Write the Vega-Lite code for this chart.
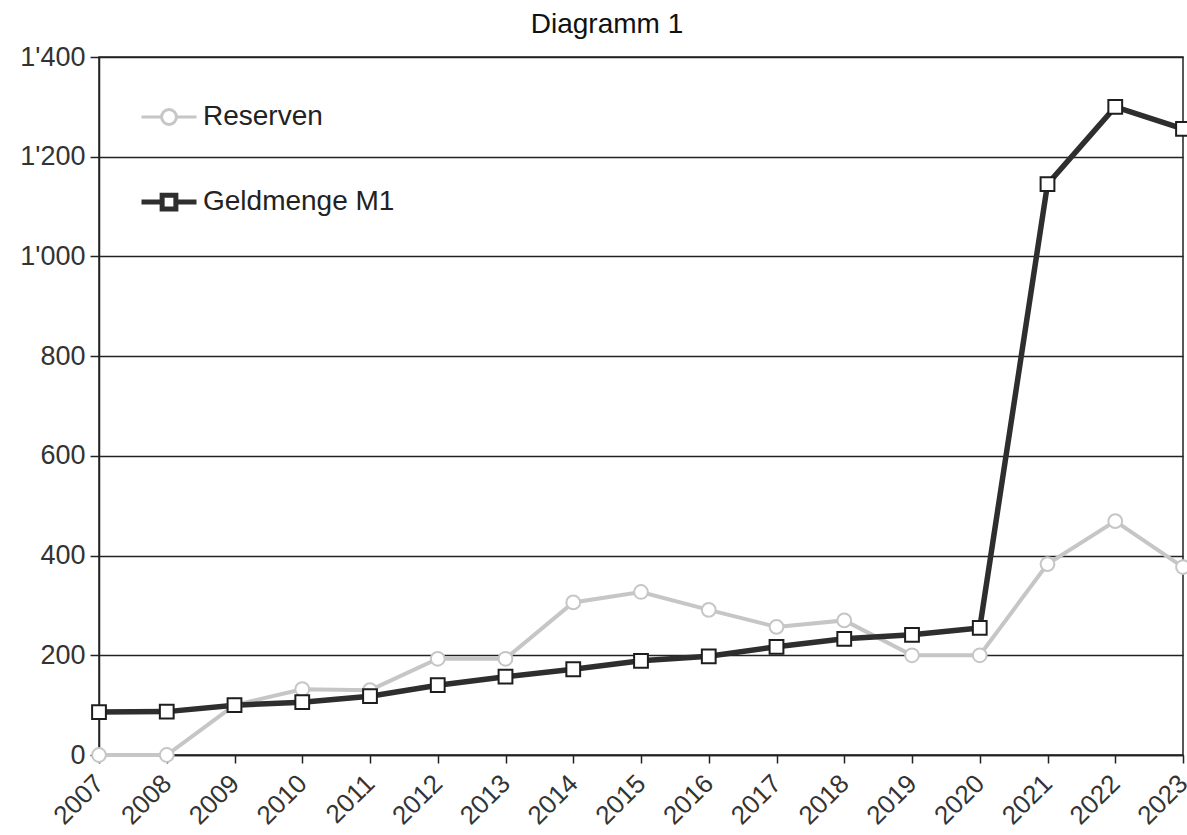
{
  "$schema": "https://vega.github.io/schema/vega-lite/v6.json",
  "width": 1084,
  "height": 698,
  "autosize": {"type": "none"},
  "padding": {"left": 99, "top": 57, "right": 4, "bottom": 80},
  "background": "white",
  "title": {"text": "Diagramm 1", "fontSize": 28, "fontWeight": "normal", "font": "Liberation Sans", "color": "#111", "offset": 4, "anchor": "middle", "dx": -34},
  "config": {
    "font": "Liberation Sans",
    "view": {"stroke": "#222", "strokeWidth": 1.5},
    "axis": {"labelFont": "Liberation Sans", "labelColor": "#333", "labelFontSize": 27, "domainColor": "#222", "tickColor": "#222", "domainWidth": 1.5, "tickWidth": 1.5}
  },
  "data": {"values": [
    {"year": "2007", "series": "Reserven", "value": 0},
    {"year": "2008", "series": "Reserven", "value": 0},
    {"year": "2009", "series": "Reserven", "value": 100},
    {"year": "2010", "series": "Reserven", "value": 132},
    {"year": "2011", "series": "Reserven", "value": 130},
    {"year": "2012", "series": "Reserven", "value": 193},
    {"year": "2013", "series": "Reserven", "value": 193},
    {"year": "2014", "series": "Reserven", "value": 306},
    {"year": "2015", "series": "Reserven", "value": 327},
    {"year": "2016", "series": "Reserven", "value": 291},
    {"year": "2017", "series": "Reserven", "value": 257},
    {"year": "2018", "series": "Reserven", "value": 270},
    {"year": "2019", "series": "Reserven", "value": 200},
    {"year": "2020", "series": "Reserven", "value": 200},
    {"year": "2021", "series": "Reserven", "value": 383},
    {"year": "2022", "series": "Reserven", "value": 469},
    {"year": "2023", "series": "Reserven", "value": 377},
    {"year": "2007", "series": "Geldmenge M1", "value": 86},
    {"year": "2008", "series": "Geldmenge M1", "value": 87},
    {"year": "2009", "series": "Geldmenge M1", "value": 100},
    {"year": "2010", "series": "Geldmenge M1", "value": 106},
    {"year": "2011", "series": "Geldmenge M1", "value": 118},
    {"year": "2012", "series": "Geldmenge M1", "value": 140},
    {"year": "2013", "series": "Geldmenge M1", "value": 157},
    {"year": "2014", "series": "Geldmenge M1", "value": 172},
    {"year": "2015", "series": "Geldmenge M1", "value": 189},
    {"year": "2016", "series": "Geldmenge M1", "value": 198},
    {"year": "2017", "series": "Geldmenge M1", "value": 217},
    {"year": "2018", "series": "Geldmenge M1", "value": 233},
    {"year": "2019", "series": "Geldmenge M1", "value": 241},
    {"year": "2020", "series": "Geldmenge M1", "value": 255},
    {"year": "2021", "series": "Geldmenge M1", "value": 1145},
    {"year": "2022", "series": "Geldmenge M1", "value": 1300},
    {"year": "2023", "series": "Geldmenge M1", "value": 1256}
  ]},
  "encoding": {
    "x": {"field": "year", "type": "ordinal", "scale": {"type": "point", "padding": 0},
      "axis": {"title": null, "labelAngle": -45, "labelAlign": "right", "labelBaseline": "middle", "labelFontSize": 26, "tickSize": 8, "labelPadding": 16, "grid": false}},
    "y": {"field": "value", "type": "quantitative", "scale": {"domain": [0, 1400], "nice": false},
      "axis": {"title": null, "values": [0, 200, 400, 600, 800, 1000, 1200, 1400], "grid": true, "gridColor": "#222", "gridWidth": 1.5, "gridOpacity": 1, "tickSize": 9, "labelPadding": 5,
        "labelExpr": "replace(format(datum.value, ','), ',', \"'\")"}}
  },
  "layer": [
    {
      "transform": [{"filter": "datum.series === 'Reserven'"}],
      "mark": {"type": "line", "strokeWidth": 4},
      "encoding": {
        "color": {"field": "series", "type": "nominal",
          "scale": {"domain": ["Reserven", "Geldmenge M1"], "range": ["#c6c6c6", "#2e2e2e"]},
          "legend": {"orient": "none", "legendX": 56, "legendY": 46, "title": null, "labelFontSize": 28, "labelColor": "#222", "labelFont": "Liberation Sans", "labelLimit": 400, "symbolSize": 3025, "rowPadding": 54, "labelOffset": 20, "padding": 0,
            "encode": {"symbols": {"update": {
              "shape": {"signal": "datum.value === 'Reserven' ? 'M-1,0H-0.27M0.27,0H1M-0.27,0A0.27,0.27 0 1 1 0.27,0A0.27,0.27 0 1 1 -0.27,0Z' : 'M-1,0H-0.25M0.25,0H1M-0.25,-0.25H0.25V0.25H-0.25Z'"},
              "fill": {"value": "white"},
              "strokeWidth": {"signal": "datum.value === 'Reserven' ? 3 : 5"},
              "opacity": {"value": 1}
            }}}}}
      }
    },
    {
      "transform": [{"filter": "datum.series === 'Geldmenge M1'"}],
      "mark": {"type": "line", "strokeWidth": 5.5},
      "encoding": {
        "color": {"field": "series", "type": "nominal",
          "scale": {"domain": ["Reserven", "Geldmenge M1"], "range": ["#c6c6c6", "#2e2e2e"]}}
      }
    },
    {
      "transform": [{"filter": "datum.series === 'Reserven'"}],
      "mark": {"type": "point", "shape": "circle", "size": 190, "filled": false, "fill": "white", "fillOpacity": 1, "stroke": "#c6c6c6", "strokeWidth": 2, "opacity": 1}
    },
    {
      "transform": [{"filter": "datum.series === 'Geldmenge M1'"}],
      "mark": {"type": "point", "shape": "square", "size": 190, "filled": false, "fill": "white", "fillOpacity": 1, "stroke": "#1e1e1e", "strokeWidth": 2, "opacity": 1}
    }
  ]
}
